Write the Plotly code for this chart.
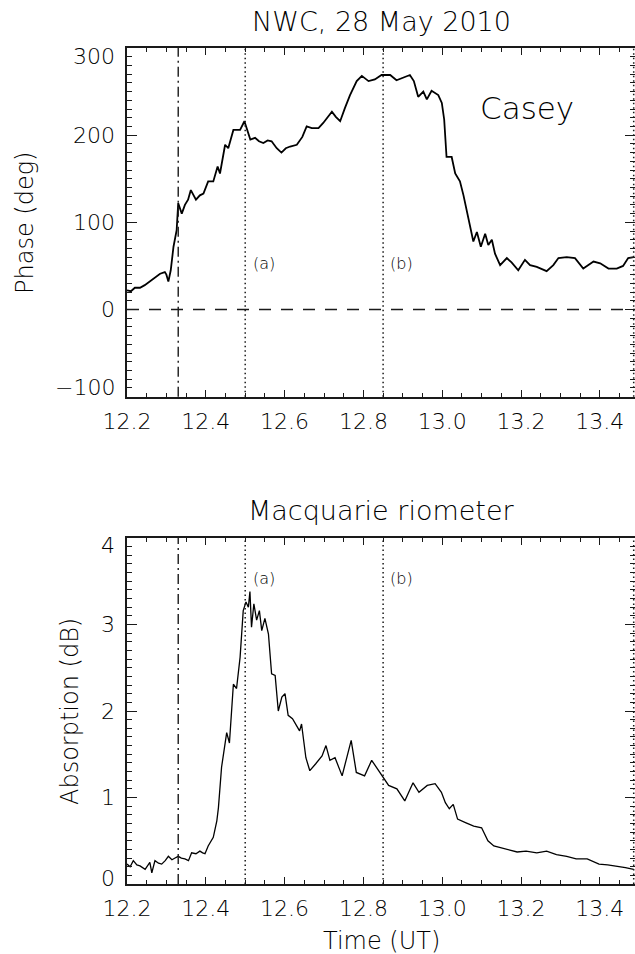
import plotly.graph_objects as go

# ---------------- data ----------------
phase_time = [12.200, 12.210, 12.220, 12.233, 12.245, 12.258, 12.270, 12.284, 12.296, 12.300,
              12.305, 12.311, 12.318, 12.326, 12.330, 12.339, 12.347, 12.355, 12.362, 12.375,
              12.385, 12.394, 12.406, 12.419, 12.430, 12.436, 12.449, 12.457, 12.470, 12.487,
              12.498, 12.513, 12.525, 12.535, 12.546, 12.557, 12.567, 12.580, 12.592, 12.603,
              12.614, 12.631, 12.645, 12.656, 12.669, 12.686, 12.698, 12.710, 12.720, 12.730,
              12.741, 12.753, 12.766, 12.783, 12.796, 12.813, 12.829, 12.846, 12.868, 12.884,
              12.897, 12.918, 12.928, 12.939, 12.952, 12.961, 12.973, 12.990, 12.999, 13.005,
              13.011, 13.024, 13.033, 13.045, 13.054, 13.062, 13.071, 13.079, 13.088, 13.098,
              13.109, 13.117, 13.126, 13.134, 13.147, 13.164, 13.176, 13.193, 13.210, 13.223,
              13.240, 13.265, 13.282, 13.295, 13.316, 13.337, 13.358, 13.384, 13.401, 13.422,
              13.443, 13.459, 13.472, 13.486]
phase_deg = [22, 21, 25, 25, 28, 32, 36, 41, 43, 40,
             32, 45, 72, 91, 122, 110, 120, 126, 137, 126,
             131, 133, 147, 147, 164, 156, 189, 185, 206, 206,
             216, 195, 197, 193, 191, 194, 193, 185, 180, 185,
             187, 189, 198, 210, 208, 208, 214, 221, 227, 221,
             216, 231, 246, 262, 268, 262, 264, 269, 269, 263,
             265, 269, 262, 244, 250, 241, 251, 246, 237, 218,
             175, 175, 156, 147, 131, 114, 99, 78, 89, 72,
             87, 74, 80, 64, 51, 59, 54, 45, 57, 51,
             49, 44, 51, 59, 60, 59, 47, 55, 53, 47,
             47, 50, 59, 60]

abs_time = [12.200, 12.208, 12.216, 12.225, 12.233, 12.240, 12.246, 12.258, 12.263, 12.271,
            12.280, 12.288, 12.297, 12.305, 12.314, 12.322, 12.330, 12.338, 12.347, 12.356,
            12.364, 12.375, 12.385, 12.392, 12.398, 12.406, 12.419, 12.428, 12.432, 12.440,
            12.449, 12.453, 12.460, 12.466, 12.470, 12.478, 12.487, 12.495, 12.502, 12.508,
            12.512, 12.516, 12.522, 12.529, 12.536, 12.542, 12.550, 12.559, 12.567, 12.576,
            12.584, 12.593, 12.601, 12.609, 12.620, 12.638, 12.643, 12.654, 12.664, 12.679,
            12.695, 12.705, 12.715, 12.728, 12.746, 12.756, 12.769, 12.782, 12.803, 12.821,
            12.833, 12.849, 12.864, 12.885, 12.905, 12.915, 12.926, 12.941, 12.962, 12.982,
            12.998, 13.008, 13.018, 13.028, 13.039, 13.059, 13.080, 13.100, 13.116, 13.131,
            13.162, 13.190, 13.213, 13.240, 13.265, 13.290, 13.316, 13.340, 13.368, 13.398,
            13.420, 13.440, 13.465, 13.486]
abs_db = [0.23, 0.20, 0.27, 0.22, 0.21, 0.19, 0.17, 0.25, 0.13, 0.27,
          0.24, 0.23, 0.27, 0.32, 0.28, 0.30, 0.32, 0.30, 0.29, 0.27,
          0.36, 0.35, 0.38, 0.36, 0.35, 0.44, 0.54, 0.73, 0.88, 1.35,
          1.62, 1.75, 1.63, 2.04, 2.31, 2.26, 2.62, 3.16, 3.26, 3.20,
          3.38, 2.97, 3.24, 3.05, 3.16, 2.93, 3.07, 2.89, 2.43, 2.41,
          2.00, 2.16, 2.20, 1.95, 1.91, 1.77, 1.85, 1.46, 1.31, 1.39,
          1.48, 1.60, 1.43, 1.46, 1.25, 1.43, 1.66, 1.29, 1.25, 1.43,
          1.35, 1.25, 1.14, 1.10, 0.96, 1.06, 1.17, 1.06, 1.14, 1.16,
          1.06, 0.94, 0.87, 0.92, 0.75, 0.71, 0.67, 0.65, 0.50, 0.44,
          0.40, 0.37, 0.38, 0.36, 0.38, 0.34, 0.32, 0.29, 0.29, 0.23,
          0.22, 0.21, 0.19, 0.17]

time_ticks = [12.2, 12.4, 12.6, 12.8, 13.0, 13.2, 13.4]
time_labels = ["12.2", "12.4", "12.6", "12.8", "13.0", "13.2", "13.4"]
phase_ticks = [-100, 0, 100, 200, 300]
phase_labels = ["\u2212100", "0", "100", "200", "300"]
abs_ticks = [0, 1, 2, 3, 4]
abs_labels = ["0", "1", "2", "3", "4"]

onset_time = 12.33
marker_times = [12.5, 12.85, 13.486]
marker_names = ["(a)", "(b)"]

FONT = "DejaVu Sans"
WEIGHT = 200
INK = "#000000"
LINE_INK = "#1a1a1a"
X_RANGE = [12.2, 13.4893]

fig = go.Figure()
fig.add_trace(go.Scatter(x=phase_time, y=phase_deg, mode="lines",
                         line=dict(color="black", width=1.8), xaxis="x", yaxis="y",
                         showlegend=False, hoverinfo="skip"))
fig.add_trace(go.Scatter(x=abs_time, y=abs_db, mode="lines",
                         line=dict(color="black", width=1.3), xaxis="x2", yaxis="y2",
                         showlegend=False, hoverinfo="skip"))

top_dom = [1 - 396.7 / 954, 1 - 48 / 954]
bot_dom = [1 - 884 / 954, 1 - 538 / 954]

def xax(anchor):
    return dict(domain=[0, 1], anchor=anchor, range=X_RANGE, tickmode="array",
                tickvals=time_ticks, ticktext=time_labels, ticks="inside", ticklen=7,
                tickwidth=1.3, tickcolor=LINE_INK, showline=True, linewidth=2,
                linecolor=LINE_INK, mirror="ticks", showgrid=False, zeroline=False,
                tickfont=dict(family=FONT, size=22, color=INK, weight=WEIGHT),
                ticklabelstandoff=4,
                minor=dict(tick0=12.2, dtick=0.05, ticks="inside", ticklen=4,
                           tickwidth=1.2, tickcolor=LINE_INK, showgrid=False),
                automargin=False)

def yax(anchor, dom, rng, ticks, minor):
    return dict(domain=dom, anchor=anchor, range=rng, tickmode="array", tickvals=ticks,
                showticklabels=False, ticks="inside", ticklen=10, tickwidth=1.3,
                tickcolor=LINE_INK, showline=True, linewidth=2, linecolor=LINE_INK,
                mirror="ticks", showgrid=False, zeroline=False,
                minor=dict(tick0=rng[0], dtick=minor, ticks="inside", ticklen=5,
                           tickwidth=1.2, tickcolor=LINE_INK, showgrid=False),
                automargin=False)

fig.update_layout(
    width=635, height=954,
    margin=dict(l=127, r=0, t=0, b=0),
    paper_bgcolor="white", plot_bgcolor="white",
    xaxis=xax("y"),
    yaxis=yax("x", top_dom, [-100, 300], phase_ticks, 10),
    xaxis2=xax("y2"),
    yaxis2=yax("x2", bot_dom, [0, 4], abs_ticks, 0.1),
)

shapes = []
for xr, yr in (("x", "y"), ("x2", "y2")):
    shapes.append(dict(type="line", xref=xr, yref=yr + " domain", x0=onset_time, x1=onset_time,
                       y0=0, y1=1, line=dict(color=LINE_INK, width=1.4, dash="10px,4px,2px,4px")))
    for t in marker_times:
        shapes.append(dict(type="line", xref=xr, yref=yr + " domain", x0=t, x1=t, y0=0, y1=1,
                           line=dict(color=LINE_INK, width=1.5, dash="1.5px,3px")))
shapes.append(dict(type="line", xref="x domain", yref="y", x0=0, x1=1, y0=0, y1=0,
                   line=dict(color=LINE_INK, width=1.4, dash="12px,10px")))
fig.update_layout(shapes=shapes)

ann = []
def txt(text, x, y, xref, yref, size, **kw):
    d = dict(text=text, x=x, y=y, xref=xref, yref=yref, showarrow=False,
             xanchor="center", yanchor="middle",
             font=dict(family=FONT, size=size, color=INK, weight=WEIGHT))
    d.update(kw)
    ann.append(d)

# y tick labels
for i, (v, lab) in enumerate(zip(phase_ticks, phase_labels)):
    ys = 9 if i == 0 else (-9 if i == len(phase_ticks) - 1 else 0)
    txt(lab, 0, v, "x domain", "y", 22, xanchor="right", xshift=-10, yshift=ys)
for i, (v, lab) in enumerate(zip(abs_ticks, abs_labels)):
    ys = 6 if i == 0 else (-7 if i == len(abs_ticks) - 1 else 0)
    txt(lab, 0, v, "x2 domain", "y2", 22, xanchor="right", xshift=-10, yshift=ys)

txt("NWC, 28 May 2010", 0.5, 1 - 22 / 954, "paper", "paper", 27)
txt("Macquarie riometer", 0.5, 1 - 510 / 954, "paper", "paper", 27)
txt("Time (UT)", 0.5, 1 - 941 / 954, "paper", "paper", 24)
txt("Phase (deg)", (25 - 127) / 508, 1 - 223 / 954, "paper", "paper", 24, textangle=-90)
txt("Absorption (dB)", (70 - 127) / 508, 1 - 712 / 954, "paper", "paper", 24, textangle=-90)
txt("Casey", 13.215, 231, "x", "y", 31)
txt(marker_names[0], 12.548, 53, "x", "y", 16)
txt(marker_names[1], 12.897, 53, "x", "y", 16)
txt(marker_names[0], 12.548, 3.53, "x2", "y2", 16)
txt(marker_names[1], 12.897, 3.53, "x2", "y2", 16)
fig.update_layout(annotations=ann)

fig.write_html("out.html")
